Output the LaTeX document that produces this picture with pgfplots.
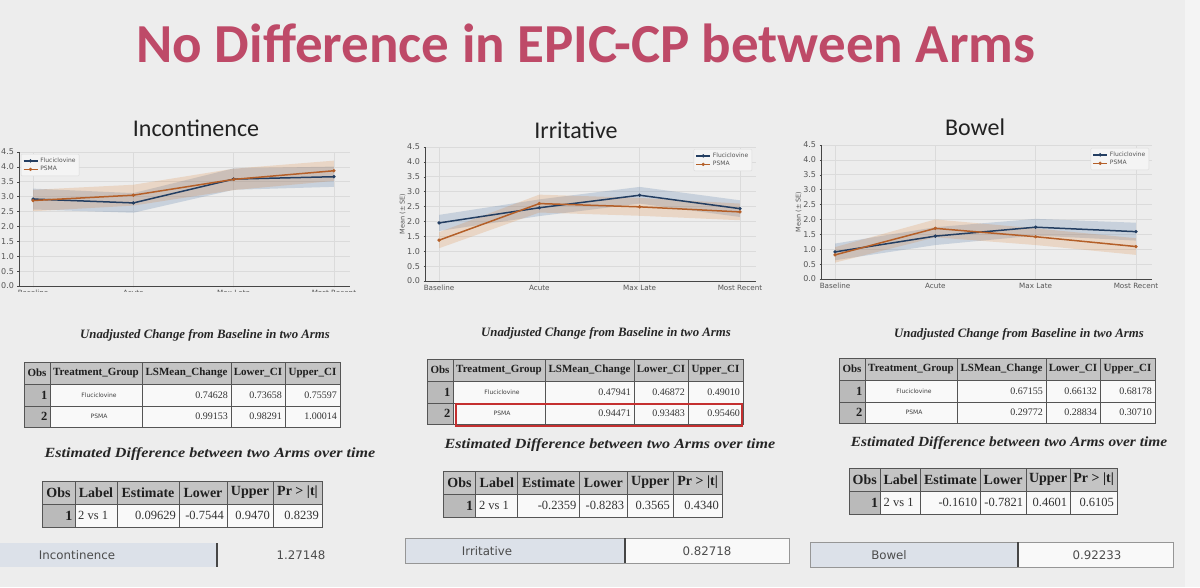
\documentclass[border=0pt]{standalone}
\usepackage{fontspec}
\setmainfont{Liberation Serif}
\newfontfamily\carlito{Carlito}
\newfontfamily\dejavu{DejaVu Sans}
\usepackage{graphicx}
\usepackage{pgfplots}
\usepackage{pgfplotstable}
\pgfplotsset{compat=1.18}

\definecolor{bgc}{RGB}{237,237,237}
\definecolor{edgec}{RGB}{244,244,244}
\definecolor{titlec}{RGB}{190,74,104}
\definecolor{headc}{RGB}{34,34,34}
\definecolor{flucol}{RGB}{35,62,98}
\definecolor{fluband}{RGB}{70,110,160}
\definecolor{psmacol}{RGB}{180,95,40}
\definecolor{psmaband}{RGB}{217,122,42}
\definecolor{gridc}{RGB}{219,219,219}
\definecolor{spinec}{RGB}{70,70,70}
\definecolor{tickc}{RGB}{85,85,85}
\definecolor{hdrc}{RGB}{196,196,196}
\definecolor{obsc}{RGB}{186,186,186}
\definecolor{cellc}{RGB}{249,249,249}
\definecolor{tlc}{RGB}{85,85,85}
\definecolor{stripc}{RGB}{220,225,233}
\definecolor{stripline}{RGB}{150,150,150}
\definecolor{hilite}{RGB}{196,48,48}

% Mean by time point: f = Fluciclovine, p = PSMA
\pgfplotstableread{
x f p
0 2.92 2.87
1 2.79 3.05
2 3.59 3.58
3 3.67 3.87
}\incont
\pgfplotstableread{
x f p
0 1.95 1.37
1 2.46 2.60
2 2.88 2.49
3 2.43 2.32
}\irrit
\pgfplotstableread{
x f p
0 0.91 0.81
1 1.44 1.70
2 1.74 1.42
3 1.59 1.09
}\bowel

% Mean +/- SE outlines: upper edge left to right, then lower edge back
\pgfplotstableread{
x fb pb
0 3.27 3.23
1 3.12 3.40
2 3.95 3.94
3 4.01 4.21
3 3.33 3.53
2 3.23 3.22
1 2.46 2.70
0 2.57 2.51
}\incontse
\pgfplotstableread{
x fb pb
0 2.22 1.64
1 2.74 2.90
2 3.16 2.79
3 2.71 2.60
3 2.15 2.04
2 2.60 2.19
1 2.18 2.30
0 1.68 1.10
}\irritse
\pgfplotstableread{
x fb pb
0 1.19 1.07
1 1.74 2.00
2 2.02 1.70
3 1.89 1.37
3 1.29 0.81
2 1.46 1.14
1 1.14 1.40
0 0.63 0.55
}\bowelse

\pgfplotsset{
  panel/.style={
    width=331pt, height=134pt, scale only axis,
    xmin=-0.14, xmax=3.16, ymin=0, ymax=4.5,
    axis x line*=bottom, axis y line*=left,
    axis line style={draw=spinec, line width=0.7pt},
    xtick={0,1,2,3},
    xticklabels={Baseline,Acute,Max Late,Most Recent},
    ytick={0,0.5,...,4.5},
    yticklabel={\pgfmathprintnumber[fixed,fixed zerofill,precision=1]{\tick}},
    /pgf/number format/assume math mode=true,
    grid=major, major grid style={draw=gridc, line width=0.6pt},
    tick style={draw=spinec, line width=0.4pt}, major tick length=1.5pt, tick align=outside,
    xticklabel style={font=\dejavu\fontsize{7.2}{8}\selectfont, text=tickc, yshift=1pt},
    yticklabel style={font=\dejavu\fontsize{8}{9}\selectfont, text=tickc},
    ylabel={Mean (± SE)}, ylabel shift=-5pt,
    ylabel style={font=\dejavu\fontsize{6.5}{7}\selectfont, text=tickc},
    legend style={font=\dejavu\fontsize{6}{7}\selectfont, text=tickc, draw=gridc,
      fill=bgc!60!white, rounded corners=1pt, inner sep=1.6pt, row sep=-1.5pt,
      cells={anchor=west}},
    legend image code/.code={\draw[mark repeat=2,mark phase=2,##1]
      plot coordinates {(0pt,0pt) (7pt,0pt) (14pt,0pt)};},
  },
  flu/.style={draw=flucol, line width=1.5pt, mark=*, mark size=1.5pt,
    mark options={fill=flucol, draw=flucol, line width=0.4pt}},
  psma/.style={draw=psmacol, line width=1.5pt, mark=*, mark size=1.5pt,
    mark options={fill=psmacol, draw=psmacol, line width=0.4pt}},
}

% SE bands, then the two mean lines
\newcommand\epicseries[2]{%
  \addplot[fill=fluband, fill opacity=0.22, draw=none, forget plot] table[x=x, y=fb] {#2} -- cycle;
  \addplot[fill=psmaband, fill opacity=0.2, draw=none, forget plot] table[x=x, y=pb] {#2} -- cycle;
  \addplot[flu] table[x=x, y=f] {#1};
  \addlegendentry{Fluciclovine}
  \addplot[psma] table[x=x, y=p] {#1};
  \addlegendentry{PSMA}
}

% Table cells (corner coordinates in a y-down frame)
\newcommand\hcell[5]{\filldraw[fill=hdrc,draw=tlc,line width=0.9pt] (#1,#2) rectangle (#3,#4);
  \node[font=\thf,text=black!88,inner sep=0pt] at ({(#1+#3)/2},{(#2+#4)/2}) {#5};}
\newcommand\ocell[5]{\filldraw[fill=obsc,draw=tlc,line width=0.9pt] (#1,#2) rectangle (#3,#4);
  \node[font=\tof,text=black!88,inner sep=0pt,anchor=east] at ({#3-2.5},{(#2+#4)/2}) {#5};}
\newcommand\vcell[5]{\filldraw[fill=cellc,draw=tlc,line width=0.9pt] (#1,#2) rectangle (#3,#4);
  \node[font=\tvf,text=black!80,inner sep=0pt,anchor=east] at ({#3-3},{(#2+#4)/2}) {#5};}
\newcommand\gcell[5]{\filldraw[fill=cellc,draw=tlc,line width=0.9pt] (#1,#2) rectangle (#3,#4);
  \node[font=\dejavu\fontsize{6}{7}\selectfont,text=black!75,inner sep=0pt] at ({(#1+#3)/2+3},{(#2+#4)/2}) {#5};}
\newcommand\lcell[5]{\filldraw[fill=cellc,draw=tlc,line width=0.9pt] (#1,#2) rectangle (#3,#4);
  \node[font=\tvf,text=black!80,inner sep=0pt,anchor=west] at ({#1+3},{(#2+#4)/2}) {#5};}

% Unadjusted change table: left, top, then six values
\newcommand\tableone[8]{%
  \begin{scope}[shift={(#1,#2)}]
  \def\thf{\bfseries\fontsize{11}{12}\selectfont}
  \def\tof{\bfseries\fontsize{12.5}{13}\selectfont}
  \def\tvf{\fontsize{10}{11}\selectfont}
  \hcell{0}{0}{26}{22}{Obs}
  \hcell{26}{0}{118}{22}{Treatment\_Group}
  \hcell{118}{0}{207}{22}{LSMean\_Change}
  \hcell{207}{0}{261}{22}{Lower\_CI}
  \hcell{261}{0}{316}{22}{Upper\_CI}
  \ocell{0}{22}{26}{44}{1}
  \gcell{26}{22}{118}{44}{Fluciclovine}
  \vcell{118}{22}{207}{44}{#3}
  \vcell{207}{22}{261}{44}{#4}
  \vcell{261}{22}{316}{44}{#5}
  \ocell{0}{44}{26}{65}{2}
  \gcell{26}{44}{118}{65}{PSMA}
  \vcell{118}{44}{207}{65}{#6}
  \vcell{207}{44}{261}{65}{#7}
  \vcell{261}{44}{316}{65}{#8}
  \end{scope}}

% Estimated difference table: left, top, estimate, lower, upper, p, total width
\newcommand\tabletwo[7]{%
  \begin{scope}[shift={(#1,#2)}, xscale=#7/280]
  \def\thf{\bfseries\fontsize{14}{15}\selectfont}
  \def\tof{\bfseries\fontsize{14}{15}\selectfont}
  \def\tvf{\fontsize{12.5}{13}\selectfont}
  \hcell{0}{0}{33}{23}{Obs}
  \hcell{33}{0}{75}{23}{Label}
  \hcell{75}{0}{137}{23}{Estimate}
  \hcell{137}{0}{185}{23}{Lower}
  \hcell{185}{0}{231}{23}{Upper}
  \hcell{231}{0}{280}{23}{Pr > |t|}
  \ocell{0}{23}{33}{46}{1}
  \lcell{33}{23}{75}{46}{2 vs 1}
  \vcell{75}{23}{137}{46}{#3}
  \vcell{137}{23}{185}{46}{#4}
  \vcell{185}{23}{231}{46}{#5}
  \vcell{231}{23}{280}{46}{#6}
  \end{scope}}

\begin{document}
\begin{tikzpicture}
\fill[bgc] (0pt,0pt) rectangle (1200pt,587pt);
\fill[edgec] (1185pt,0pt) rectangle (1200pt,587pt);

% Incontinence
\begin{axis}[panel, at={(19pt,301pt)}, anchor=south west,
  legend style={at={(0.006,0.985)}, anchor=north west}]
\epicseries{\incont}{\incontse}
\end{axis}
% the captured Incontinence figure is cut through its tick labels
\fill[bgc] (0pt,280pt) rectangle (400pt,294.5pt);

% Irritative
\begin{axis}[panel, at={(425pt,306pt)}, anchor=south west,
  legend style={at={(0.988,0.985)}, anchor=north east}]
\epicseries{\irrit}{\irritse}
\end{axis}

% Bowel
\begin{axis}[panel, at={(821pt,308pt)}, anchor=south west,
  legend style={at={(0.991,0.978)}, anchor=north east}]
\epicseries{\bowel}{\bowelse}
\end{axis}

\begin{scope}[x=1pt, y=-1pt, yshift=587pt]
  \node[font=\carlito\bfseries\fontsize{55}{61}\selectfont, text=titlec, anchor=base] at (586,63)
    {No Difference in EPIC-CP between Arms};
  \node[font=\carlito\fontsize{24}{27}\selectfont, text=headc, anchor=base] at (196,137) {Incontinence};
  \node[font=\carlito\fontsize{24}{27}\selectfont, text=headc, anchor=base] at (576,139) {Irritative};
  \node[font=\carlito\fontsize{24}{27}\selectfont, text=headc, anchor=base] at (975,136) {Bowel};

  \def\subA{\bfseries\itshape\fontsize{12.8}{14}\selectfont}
  \def\subB{\bfseries\itshape\fontsize{14}{16}\selectfont}
  \node[font=\subA, text=black!85, anchor=base] at (205,339) {Unadjusted Change from Baseline in two Arms};
  \node[font=\subA, text=black!85, anchor=base] at (606,337) {Unadjusted Change from Baseline in two Arms};
  \node[font=\subA, text=black!85, anchor=base] at (1019,338) {Unadjusted Change from Baseline in two Arms};
  \node[font=\subB, text=black!85, anchor=base] at (210,458) {\scalebox{1.15}[1]{Estimated Difference between two Arms over time}};
  \node[font=\subB, text=black!85, anchor=base] at (610,448) {\scalebox{1.15}[1]{Estimated Difference between two Arms over time}};
  \node[font=\subB, text=black!85, anchor=base] at (1009,447) {\scalebox{1.1}[1]{Estimated Difference between two Arms over time}};

  \tableone{24}{362}{0.74628}{0.73658}{0.75597}{0.99153}{0.98291}{1.00014}
  \tableone{427}{359}{0.47941}{0.46872}{0.49010}{0.94471}{0.93483}{0.95460}
  \tableone{839}{358}{0.67155}{0.66132}{0.68178}{0.29772}{0.28834}{0.30710}
  \draw[hilite, line width=1.4pt] (456,404) rectangle (742,426);

  \tabletwo{42}{481}{0.09629}{-0.7544}{0.9470}{0.8239}{280}
  \tabletwo{443}{471}{-0.2359}{-0.8283}{0.3565}{0.4340}{279}
  \tabletwo{849}{468}{-0.1610}{-0.7821}{0.4601}{0.6105}{268}

  % summary strips
  \def\stf{\dejavu\fontsize{11.8}{13}\selectfont}
  \fill[stripc] (0,543) rectangle (217,567);
  \draw[spinec, line width=1.2pt] (217,543) -- (217,567);
  \node[font=\stf, text=black!70] at (77,555) {Incontinence};
  \node[font=\stf, text=black!70] at (301,555) {1.27148};

  \fill[stripc] (405,538) rectangle (625,563);
  \fill[cellc] (625,538) rectangle (789,563);
  \draw[stripline, line width=0.9pt] (405,538) rectangle (789,563);
  \draw[spinec, line width=1.1pt] (625,538) -- (625,563);
  \node[font=\stf, text=black!70] at (487,551) {Irritative};
  \node[font=\stf, text=black!70] at (707,551) {0.82718};

  \fill[stripc] (810,542) rectangle (1018,567);
  \fill[cellc] (1018,542) rectangle (1173,567);
  \draw[stripline, line width=0.9pt] (810,542) rectangle (1173,567);
  \draw[spinec, line width=1.1pt] (1018,542) -- (1018,567);
  \node[font=\stf, text=black!70] at (889,555) {Bowel};
  \node[font=\stf, text=black!70] at (1097,555) {0.92233};
\end{scope}
\pgfresetboundingbox
\path (0pt,0pt) rectangle (1200pt,587pt);
\end{tikzpicture}
\end{document}
